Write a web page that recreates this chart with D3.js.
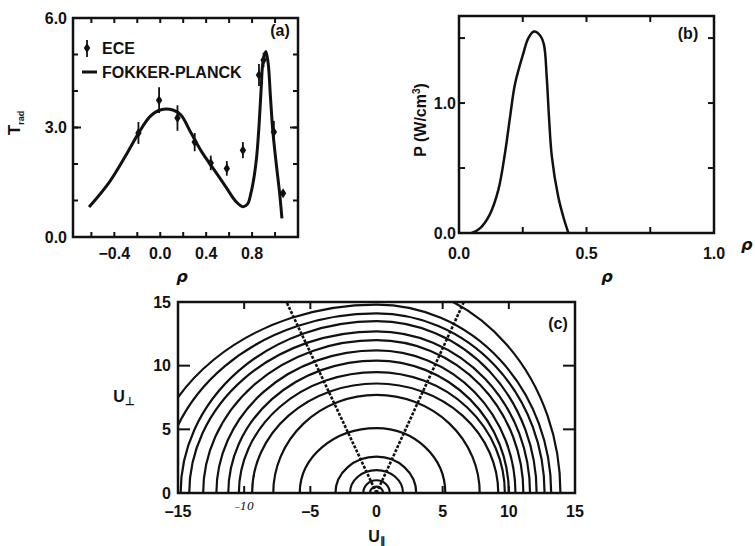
<!DOCTYPE html>
<html>
<head>
<meta charset="utf-8">
<script src="https://cdn.jsdelivr.net/npm/d3@7"></script>
<style>
  body { margin: 0; background: #fff; }
  text { font-family: 'Liberation Sans', Arial, sans-serif; font-weight: bold; font-size: 16px; fill: #111; }
  .ital { font-style: italic; }
</style>
</head>
<body>
<svg id="chart" width="755" height="546"></svg>
<script>
// Panel (a): radiation temperature vs rho
const fpRho = [-0.62, -0.44, -0.29, -0.19, -0.09, 0.0, 0.11, 0.18, 0.27, 0.37, 0.47, 0.58, 0.66, 0.72, 0.76, 0.79, 0.82, 0.84, 0.86, 0.88, 0.895, 0.92, 0.94, 0.96, 0.98, 1.01, 1.04, 1.06];
const fpT   = [0.82, 1.52, 2.29, 2.84, 3.30, 3.48, 3.48, 3.34, 2.84, 2.29, 1.84, 1.33, 0.97, 0.83, 0.90, 1.20, 1.70, 2.20, 3.02, 4.12, 4.80, 5.08, 4.76, 3.84, 2.93, 2.02, 1.20, 0.51];
const eceRho = [-0.19, -0.01, 0.15, 0.30, 0.44, 0.58, 0.72, 0.86, 0.90, 0.99, 1.07];
const eceT   = [2.85, 3.75, 3.26, 2.60, 2.03, 1.88, 2.38, 4.44, 4.85, 2.88, 1.20];
const eceErr = [0.30, 0.35, 0.35, 0.25, 0.20, 0.20, 0.22, 0.30, 0.20, 0.30, 0.08];
const aMinorX = [-0.6, -0.4, -0.2, 0.0, 0.2, 0.4, 0.6, 0.8, 1.0];
const aLabelX = [-0.4, 0.0, 0.4, 0.8];
const aMinorY = [1, 2, 3, 4, 5];
const aLabelY = [0, 3, 6];

// Panel (b): absorbed power density vs rho
const pRho = [0.05, 0.082, 0.12, 0.154, 0.18, 0.20, 0.22, 0.252, 0.272, 0.294, 0.318, 0.333, 0.344, 0.353, 0.364, 0.389, 0.409, 0.429];
const pVal = [0.0, 0.036, 0.14, 0.33, 0.61, 0.89, 1.15, 1.38, 1.50, 1.55, 1.52, 1.45, 1.20, 0.89, 0.59, 0.28, 0.125, 0.0];
const bTicksX = [0.25, 0.5, 0.75];
const bLabelX = [0.0, 0.5, 1.0];
const bTicksY = [0.5, 1.0, 1.5];
const bLabelY = [0.0, 1.0];

// Panel (c): contours in (u_par, u_perp); left intercept, top height, right intercept
const cLeft  = [null, 17.4, 16.2, 14.8, 14.15, 13.1, 12.1, 11.2, 10.4, 9.4, 7.8, 5.8, 3.1, 2.0, 1.0, 0.5];
const cTop   = [16.5, 14.8, 14.1, 13.5, 12.7, 12.0, 11.2, 10.4, 9.5, 8.6, 7.7, 5.1, 2.85, 1.8, 1.0, 0.5];
const cRight = [13.9, 13.2, 12.7, 12.1, 11.6, 11.1, 10.5, 10.0, 9.7, 9.2, 7.8, 5.2, 3.0, 2.0, 1.0, 0.5];
const resTop = [-6.8, 6.6];   // where the resonance lines meet u_perp = 15
const cLabelX = [-15, -5, 0, 5, 10, 15];
const cLabelY = [0, 5, 10, 15];
const cTicksX = [-10, -5, 5, 10];
const cTicksY = [5, 10];

const svg = d3.select('#chart');
svg.append('rect').attr('width', 755).attr('height', 546).attr('fill', '#fff');

const fmt1 = d3.format('.1f');
const dash = s => s.replace('-', '\u2013');

function frame(g, x, y) {
    g.append('rect')
        .attr('x', x.range()[0]).attr('y', y.range()[1])
        .attr('width', x.range()[1] - x.range()[0])
        .attr('height', y.range()[0] - y.range()[1])
        .attr('fill', 'none').attr('stroke', '#111').attr('stroke-width', 2.5);
}

function ticks(g, x, y, xs, ys, len) {
    const y0 = y.range()[0], y1 = y.range()[1], x0 = x.range()[0], x1 = x.range()[1];
    xs.forEach(v => {
        g.append('line').attr('x1', x(v)).attr('x2', x(v)).attr('y1', y0).attr('y2', y0 - len)
            .attr('stroke', '#111').attr('stroke-width', 2);
        g.append('line').attr('x1', x(v)).attr('x2', x(v)).attr('y1', y1).attr('y2', y1 + len)
            .attr('stroke', '#111').attr('stroke-width', 2);
    });
    ys.forEach(v => {
        g.append('line').attr('x1', x0).attr('x2', x0 + len).attr('y1', y(v)).attr('y2', y(v))
            .attr('stroke', '#111').attr('stroke-width', 2);
        g.append('line').attr('x1', x1).attr('x2', x1 - len).attr('y1', y(v)).attr('y2', y(v))
            .attr('stroke', '#111').attr('stroke-width', 2);
    });
}

// ---------- Panel (a)
const xa = d3.scaleLinear().domain([-0.76, 1.2]).range([73, 298]);
const ya = d3.scaleLinear().domain([0, 6]).range([237, 18]);
const ga = svg.append('g');
frame(ga, xa, ya);
ticks(ga, xa, ya, aMinorX, aMinorY, 5);
ticks(ga, xa, ya, [], [3], 8);

ga.append('path')
    .datum(fpRho.map((r, i) => [r, fpT[i]]))
    .attr('d', d3.line().x(d => xa(d[0])).y(d => ya(d[1])).curve(d3.curveCatmullRom))
    .attr('fill', 'none').attr('stroke', '#111').attr('stroke-width', 3);

const ece = ga.selectAll('.ece').data(eceRho.map((r, i) => ({ r, t: eceT[i], e: eceErr[i] })))
    .enter().append('g').attr('class', 'ece');
ece.append('line')
    .attr('x1', d => xa(d.r)).attr('x2', d => xa(d.r))
    .attr('y1', d => ya(d.t + d.e)).attr('y2', d => ya(d.t - d.e))
    .attr('stroke', '#111').attr('stroke-width', 1.8);
ece.append('path')
    .attr('d', d => `M${xa(d.r)},${ya(d.t) - 5}l3.2,5l-3.2,5l-3.2,-5z`)
    .attr('fill', '#111');

// legend
ga.append('line').attr('x1', 87).attr('x2', 87).attr('y1', 40).attr('y2', 57).attr('stroke', '#111').attr('stroke-width', 1.8);
ga.append('path').attr('d', 'M87,43l3.2,5l-3.2,5l-3.2,-5z').attr('fill', '#111');
ga.append('text').attr('x', 102).attr('y', 54).text('ECE');
ga.append('line').attr('x1', 82).attr('x2', 97).attr('y1', 72).attr('y2', 72).attr('stroke', '#111').attr('stroke-width', 3);
ga.append('text').attr('x', 102).attr('y', 78).text('FOKKER-PLANCK');
ga.append('text').attr('x', 280).attr('y', 36).attr('text-anchor', 'middle').text('(a)');

ga.selectAll('.xl').data(aLabelX).enter().append('text')
    .attr('x', d => xa(d)).attr('y', 259).attr('text-anchor', 'middle')
    .text(d => dash(fmt1(d)));
ga.selectAll('.yl').data(aLabelY).enter().append('text')
    .attr('x', 67).attr('y', d => ya(d)).attr('dy', '0.35em').attr('text-anchor', 'end')
    .text(d => fmt1(d));
ga.append('text').attr('class', 'ital').attr('x', 182).attr('y', 282).attr('text-anchor', 'middle')
    .style('font-family', 'DejaVu Sans').style('font-size', '16px').text('\u03c1');
const tl = ga.append('text').attr('transform', 'translate(20,123) rotate(-90)').attr('text-anchor', 'middle');
tl.append('tspan').style('font-size', '17px').text('T');
tl.append('tspan').attr('dy', 4).style('font-size', '9px').text('rad');

// ---------- Panel (b)
const xb = d3.scaleLinear().domain([0, 1]).range([459, 714]);
const yb = d3.scaleLinear().domain([0, 1.67]).range([233, 16]);
const gb = svg.append('g');
frame(gb, xb, yb);
ticks(gb, xb, yb, bTicksX, bTicksY, 6);

gb.append('path')
    .datum(pRho.map((r, i) => [r, pVal[i]]))
    .attr('d', d3.line().x(d => xb(d[0])).y(d => yb(d[1])).curve(d3.curveCatmullRom))
    .attr('fill', 'none').attr('stroke', '#111').attr('stroke-width', 2.5);

gb.append('text').attr('x', 688).attr('y', 39).attr('text-anchor', 'middle').text('(b)');
gb.selectAll('.xl').data(bLabelX).enter().append('text')
    .attr('x', d => xb(d)).attr('y', 259).attr('text-anchor', 'middle')
    .text(d => fmt1(d));
gb.selectAll('.yl').data(bLabelY).enter().append('text')
    .attr('x', 456).attr('y', d => yb(d)).attr('dy', '0.35em').attr('text-anchor', 'end')
    .text(d => fmt1(d));
gb.append('text').attr('class', 'ital').attr('x', 607).attr('y', 282).attr('text-anchor', 'middle')
    .style('font-family', 'DejaVu Sans').style('font-size', '16px').text('\u03c1');
gb.append('text').attr('class', 'ital').attr('x', 741).attr('y', 250)
    .style('font-family', 'DejaVu Sans').style('font-size', '16px').text('\u03c1');
const pl = gb.append('text').attr('transform', 'translate(426,120) rotate(-90)').attr('text-anchor', 'middle');
pl.append('tspan').text('P (W/cm');
pl.append('tspan').attr('dy', -6).style('font-size', '10px').text('3');
pl.append('tspan').attr('dy', 6).text(')');

// ---------- Panel (c)
const xc = d3.scaleLinear().domain([-15, 15]).range([178, 575]);
const yc = d3.scaleLinear().domain([0, 15]).range([493, 302]);
const gc = svg.append('g');
const kx = (xc.range()[1] - xc.range()[0]) / 30;
const ky = (yc.range()[0] - yc.range()[1]) / 15;

svg.append('clipPath').attr('id', 'clipc').append('rect')
    .attr('x', 178).attr('y', 302).attr('width', 397).attr('height', 191);

const contours = cTop.map((t, i) => ({ l: cLeft[i], t, r: cRight[i] }));
gc.append('g').attr('clip-path', 'url(#clipc)')
    .selectAll('path').data(contours).enter().append('path')
    .attr('d', d => {
        let s = '';
        if (d.l !== null) {
            s += `M${xc(-d.l)},${yc(0)}A${d.l * kx},${d.t * ky} 0 0 1 ${xc(0)},${yc(d.t)}`;
        } else {
            s += `M${xc(0)},${yc(d.t)}`;
        }
        s += `A${d.r * kx},${d.t * ky} 0 0 1 ${xc(d.r)},${yc(0)}`;
        return s;
    })
    .attr('fill', 'none').attr('stroke', '#111').attr('stroke-width', 2.2);

gc.selectAll('.res').data(resTop).enter().append('line')
    .attr('x1', xc(0)).attr('y1', yc(0))
    .attr('x2', d => xc(d)).attr('y2', yc(15))
    .attr('stroke', '#111').attr('stroke-width', 2.6).attr('stroke-dasharray', '3,1.5');

frame(gc, xc, yc);
ticks(gc, xc, yc, cTicksX, [], 7);
ticks(gc, xc, yc, [], cTicksY, 12);

gc.append('text').attr('x', 558).attr('y', 329).attr('text-anchor', 'middle').text('(c)');
gc.selectAll('.xl').data(cLabelX).enter().append('text')
    .attr('x', d => xc(d)).attr('y', 517).attr('text-anchor', 'middle')
    .text(d => dash(String(d)));
gc.append('text').attr('class', 'ital').attr('x', xc(-10)).attr('y', 510).attr('text-anchor', 'middle')
    .style('font-family', 'DejaVu Serif').style('font-weight', 'normal').style('font-size', '11px')
    .text('\u201310');
gc.selectAll('.yl').data(cLabelY).enter().append('text')
    .attr('x', 171).attr('y', d => yc(d)).attr('dy', '0.35em').attr('text-anchor', 'end')
    .text(d => d);
const ul = gc.append('text').attr('x', 377).attr('y', 542).attr('text-anchor', 'middle');
ul.append('tspan').text('U');
ul.append('tspan').attr('dy', 3).style('font-size', '11px').text('\u2225');
const up = gc.append('text').attr('x', 124).attr('y', 402).attr('text-anchor', 'middle');
up.append('tspan').text('U');
up.append('tspan').attr('dy', 3).style('font-size', '11px').text('\u22a5');
</script>
</body>
</html>
